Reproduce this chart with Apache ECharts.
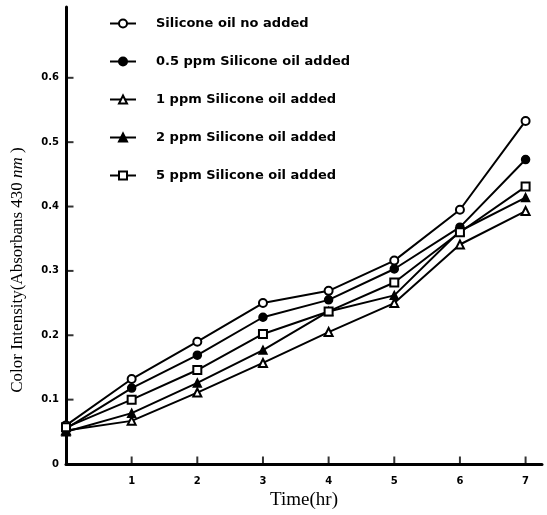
<!DOCTYPE html>
<html>
<head>
<meta charset="utf-8">
<script src="https://cdn.jsdelivr.net/npm/echarts@6/dist/echarts.min.js"></script>
<style>
    html, body {margin: 0; padding: 0; background: #fff;}
    #chart {width: 547px; height: 515px;}
</style>
</head>
<body>
<div id="chart"></div>
<script>
// 数据
var times = [0, 1, 2, 3, 4, 5, 6, 7]
var seriesNames = [
    'Silicone oil no added',
    '0.5 ppm Silicone oil added',
    '1 ppm Silicone oil added',
    '2 ppm Silicone oil added',
    '5 ppm Silicone oil added'
]
var noAdded = [0.060, 0.132, 0.190, 0.250, 0.269, 0.316, 0.395, 0.533]
var ppm05 = [0.055, 0.118, 0.169, 0.228, 0.255, 0.303, 0.368, 0.473]
var ppm1 = [0.052, 0.067, 0.111, 0.157, 0.205, 0.250, 0.341, 0.393]
var ppm2 = [0.050, 0.079, 0.126, 0.177, 0.237, 0.262, 0.362, 0.414]
var ppm5 = [0.057, 0.100, 0.146, 0.202, 0.237, 0.282, 0.360, 0.431]
var symbols = ['emptyCircle', 'circle', 'emptyTriangle', 'triangle', 'emptyRect']
// 刻度位置
var xTicks = [1, 2, 3, 4, 5, 6, 7]
var yTicks = [0.1, 0.2, 0.3, 0.4, 0.5, 0.6]

var allValues = [noAdded, ppm05, ppm1, ppm2, ppm5]

function pairs(values) {
    var out = []
    for (var i = 0; i < times.length; i++) {
        out.push([times[i], values[i]])
    }
    return out
}

var series = []
for (var i = 0; i < seriesNames.length; i++) {
    series.push({
        name: seriesNames[i],
        type: 'line',
        data: pairs(allValues[i]),
        symbol: symbols[i],
        symbolSize: 8,
        showAllSymbol: true,
        itemStyle: {color: '#000', borderColor: '#000', borderWidth: 1.5},
        lineStyle: {color: '#000', width: 2},
        animation: false
    })
}

// 内侧刻度线 (axisTick inside 不显示, 用 scatter 画)
var xTickData = []
for (var i = 0; i < xTicks.length; i++) xTickData.push([xTicks[i], 0])
var yTickData = []
for (var i = 0; i < yTicks.length; i++) yTickData.push([0, yTicks[i]])
series.push({
    type: 'scatter',
    data: xTickData,
    symbol: 'rect',
    symbolSize: [2, 7],
    symbolOffset: [0, -4],
    itemStyle: {color: '#000'},
    silent: true,
    clip: false,
    z: 5
})
series.push({
    type: 'scatter',
    data: yTickData,
    symbol: 'rect',
    symbolSize: [7, 2],
    symbolOffset: [4, 0],
    itemStyle: {color: '#000'},
    silent: true,
    clip: false,
    z: 5
})

var myChart = echarts.init(document.getElementById('chart'))
myChart.setOption({
    backgroundColor: '#fff',
    animation: false,
    grid: {left: 66, right: 5, top: 7, bottom: 49, containLabel: false},
    legend: {
        orient: 'vertical',
        left: 104,
        top: 12,
        itemWidth: 26,
        itemHeight: 10,
        itemGap: 25,
        data: seriesNames,
        textStyle: {
            fontFamily: 'DejaVu Sans',
            fontWeight: 'bold',
            fontSize: 13,
            color: '#000',
            padding: [0, 0, 0, 15]
        }
    },
    xAxis: {
        type: 'value',
        min: 0,
        max: 7.25,
        interval: 1,
        name: 'Time(hr)',
        nameLocation: 'middle',
        nameGap: 27,
        nameTextStyle: {fontFamily: 'Liberation Serif', fontSize: 19, color: '#000'},
        axisLine: {lineStyle: {color: '#000', width: 3}},
        axisTick: {show: false},
        splitLine: {show: false},
        axisLabel: {
            margin: 12,
            color: '#000',
            fontWeight: 'bold',
            fontSize: 10,
            fontFamily: 'DejaVu Sans',
            showMaxLabel: false,
            formatter: function (v) {
                return v === 0 || v > 7 ? '' : v
            }
        }
    },
    yAxis: {
        type: 'value',
        min: 0,
        max: 0.71,
        interval: 0.1,
        axisLine: {show: true, lineStyle: {color: '#000', width: 3}},
        axisTick: {show: false},
        splitLine: {show: false},
        axisLabel: {
            margin: 7,
            color: '#000',
            fontWeight: 'bold',
            fontSize: 10,
            fontFamily: 'DejaVu Sans',
            formatter: function (v) {
                if (v === 0) return '0'
                return v > 0.65 ? '' : v.toFixed(1)
            }
        }
    },
    graphic: [{
        type: 'text',
        x: 18,
        y: 270,
        rotation: Math.PI / 2,
        style: {
            text: 'Color Intensity(Absorbans 430 {i|nm} )',
            font: '17px "Liberation Serif"',
            fill: '#000',
            align: 'center',
            verticalAlign: 'middle',
            rich: {
                i: {fontStyle: 'italic', fontFamily: 'Liberation Serif', fontSize: 17}
            }
        }
    }],
    series: series
})
</script>
</body>
</html>
